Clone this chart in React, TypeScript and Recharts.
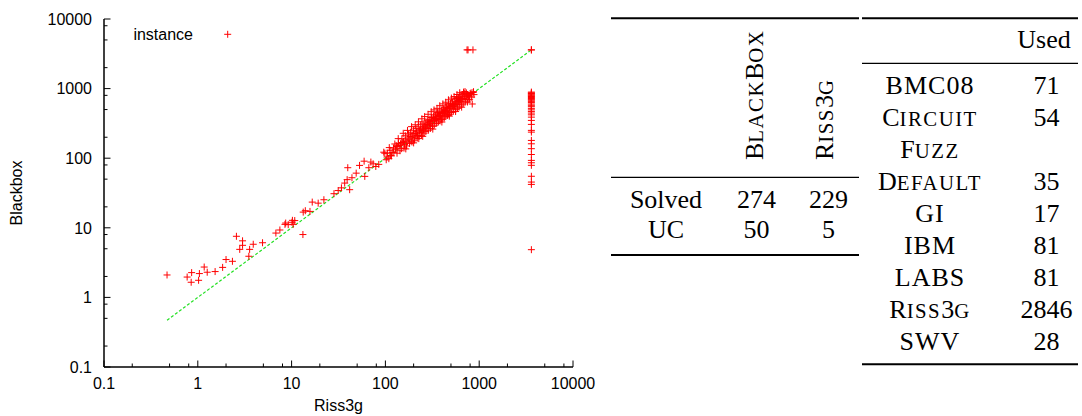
import React from 'react';
import { ScatterChart, Scatter, XAxis, YAxis, ReferenceLine, Legend } from 'recharts';

// ---------------- data ----------------
const TIMEOUT = 3600;

// [Riss3g time, Blackbox time] for instances solved by both solvers
const solvedByBoth: [number, number][] = [
  [0.47, 2.1], [0.77, 1.96], [0.86, 2.27], [0.85, 1.65], [1.04, 2.2], [1.02, 1.76],
  [1.17, 2.73], [1.26, 2.3], [1.53, 2.35], [1.84, 2.7], [2.0, 3.5], [2.34, 3.3],
  [2.58, 7.55], [3.0, 6.5], [3.0, 5.6], [2.8, 4.9], [3.57, 4.9], [3.5, 3.9],
  [3.9, 5.8], [4.9, 6.1], [6.8, 8.4], [7.5, 9.3], [8.5, 11.2], [8.65, 11.7],
  [9.2, 11.1], [10.2, 12.8], [10.4, 11.2], [10.8, 12.7], [10.1, 12.0], [13.2, 8.0],
  [13.3, 16.8], [14.0, 17.6], [15.7, 17.2], [16.6, 23.4], [19.2, 22.6], [22.1, 25.3],
  [28.3, 30.9], [31.4, 34.3], [34.0, 37.5], [36.8, 43.9], [39.1, 49.2], [41.6, 35.3],
  [39.7, 73], [44, 52.4], [48.8, 61], [53, 78.8], [59.3, 90.6], [60.3, 54.8],
  [66.6, 73], [70, 88], [74, 83], [79, 76], [85, 81.5], [96, 122],
  [98.6, 118], [104, 104], [108.8, 98.5], [113, 109], [123, 122], [134, 147],
  [105, 118], [112, 130], [118, 121], [122, 140], [128, 135], [131, 150],
  [137, 191], [140, 152], [145, 161], [148, 137], [151, 168], [156, 175],
  [160, 158], [165, 182], [170, 170], [174, 195], [178, 188], [183, 205],
  [188, 176], [193, 201], [197, 214], [202, 226], [206, 195], [210, 225],
  [215, 240], [220, 212], [227, 191], [231, 248], [236, 256], [240, 233],
  [246, 249], [250, 270], [255, 262], [260, 288], [267, 279], [272, 300],
  [278, 268], [283, 305], [290, 330], [296, 292], [300, 318], [305, 338],
  [314, 312], [320, 345], [328, 387], [334, 350], [340, 372], [348, 360],
  [356, 434], [362, 398], [370, 410], [378, 392], [386, 410], [392, 438],
  [398, 366], [405, 455], [412, 430], [420, 460], [428, 448], [436, 486],
  [445, 470], [455, 513], [463, 495], [475, 434], [482, 530], [490, 555],
  [500, 520], [515, 574], [525, 548], [535, 590], [545, 560], [557, 608],
  [568, 640], [580, 590], [592, 655], [604, 676], [615, 640], [628, 700],
  [640, 660], [654, 756], [668, 720], [681, 891], [695, 760], [706, 906],
  [720, 700], [735, 780], [750, 820], [771, 796], [785, 760], [800, 850],
  [820, 870], [843, 601], [860, 880], [880, 820],
  [102, 95], [110, 142], [116, 108], [126, 160], [133, 118], [138, 165],
  [143, 128], [150, 190], [158, 140], [163, 210], [168, 150], [176, 222],
  [181, 163], [186, 236], [192, 171], [199, 252], [204, 182], [212, 268],
  [218, 194], [224, 283], [229, 206], [238, 302], [243, 214], [252, 312],
  [258, 229], [265, 331], [270, 241], [280, 346], [287, 252], [293, 362],
  [302, 268], [310, 384], [318, 287], [325, 402], [332, 298], [343, 421],
  [352, 316], [360, 452], [367, 331], [375, 466], [383, 344], [395, 492],
  [402, 361], [415, 512], [424, 379], [432, 533], [441, 396], [450, 561],
  [460, 412], [470, 586], [478, 423], [495, 612], [505, 454], [520, 643],
  [530, 471], [550, 688], [562, 498], [575, 722], [588, 521], [600, 748],
  [612, 546], [625, 779], [645, 582], [660, 818], [675, 603], [690, 852],
  [710, 641], [730, 868], [760, 688], [790, 702], [830, 757], [870, 902],
  [155, 228], [172, 251], [190, 284], [208, 302], [225, 333], [245, 368],
  [262, 396], [285, 428], [308, 466], [330, 494], [355, 521], [380, 568],
  [410, 603], [440, 638], [470, 690], [505, 731], [540, 768], [580, 822],
  [620, 872], [165, 136], [200, 166], [250, 206], [320, 262], [400, 331],
  [480, 402], [560, 468], [650, 541], [750, 642],
];

// Blackbox times for instances where Riss3g hit the timeout
const riss3gTimeouts: number[] = [
  3600, 3600, 891, 870, 850, 830, 810, 790, 770, 745, 720, 700, 680, 655, 630, 600, 575,
  550, 520, 495, 470, 445, 420, 389, 349, 306, 251, 237, 180, 161, 137, 113, 93,
  86, 79, 55, 45.4, 42, 4.85,
];

// Riss3g times for instances where Blackbox hit the timeout
const blackboxTimeouts: number[] = [742, 760, 858];

const diagonal: [number, number] = [0.47, 3600];

const majorTicks = [0.1, 1, 10, 100, 1000, 10000];
const minorTicks = [0.2, 0.5, 0.8, 2, 5, 8, 20, 50, 80, 200, 500, 800, 2000, 5000, 8000];
const legendLabel = 'instance';
const xLabel = 'Riss3g';
const yLabel = 'Blackbox';

// tables
const t1Columns = ['BlackBox', 'Riss3g'];
const t1Rows = ['Solved', 'UC'];
const t1Values = [
  ['274', '229'],
  ['50', '5'],
];
const t2Header = 'Used';
const t2Names = ['BMC08', 'Circuit', 'Fuzz', 'Default', 'GI', 'IBM', 'LABS', 'Riss3g', 'SWV'];
const t2Used = ['71', '54', '', '35', '17', '81', '81', '2846', '28'];

// ---------------- styling ----------------
const SANS = '"Liberation Sans", Arial, Helvetica, sans-serif';
const SERIF = 'Liberation Serif';
const RED = '#ff0000';
const GREEN = '#22e022';
const TICK_FONT = 16;
const MAJOR_LEN = 6.5;
const MINOR_LEN = 3.5;

const allTicks = [...majorTicks, ...minorTicks].sort((a, b) => a - b);
const isMajor = (v: number) => majorTicks.indexOf(v) >= 0;
const fmt = (v: number) => (v < 1 ? String(v) : String(Math.round(v)));

const points = [
  ...solvedByBoth.map(([r, b]) => ({ r, b })),
  ...riss3gTimeouts.map((b) => ({ r: TIMEOUT, b })),
  ...blackboxTimeouts.map((r) => ({ r, b: TIMEOUT })),
];

function Plus(props: any) {
  const { cx, cy } = props;
  if (cx == null || cy == null) return null;
  return (
    <path
      d={`M${cx - 3.5},${cy}H${cx + 3.5}M${cx},${cy - 3.5}V${cy + 3.5}`}
      stroke={RED}
      strokeWidth={1}
      fill="none"
    />
  );
}

function BottomTick(props: any) {
  const { x, y, payload } = props;
  const v = payload.value;
  const major = isMajor(v);
  return (
    <g>
      <line x1={x} x2={x} y1={y} y2={y - (major ? MAJOR_LEN : MINOR_LEN)} stroke="#000" strokeWidth={1} />
      {major && (
        <text x={x} y={y + 22} textAnchor="middle" fontSize={TICK_FONT} fontFamily={SANS} fill="#000">
          {fmt(v)}
        </text>
      )}
    </g>
  );
}

function TopTick(props: any) {
  const { x, y, payload } = props;
  const major = isMajor(payload.value);
  return <line x1={x} x2={x} y1={y} y2={y + (major ? MAJOR_LEN : MINOR_LEN)} stroke="#000" strokeWidth={1} />;
}

function LeftTick(props: any) {
  const { x, y, payload } = props;
  const v = payload.value;
  const major = isMajor(v);
  return (
    <g>
      <line x1={x} x2={x + (major ? MAJOR_LEN : MINOR_LEN)} y1={y} y2={y} stroke="#000" strokeWidth={1} />
      {major && (
        <text x={x - 12} y={y + 5.7} textAnchor="end" fontSize={TICK_FONT} fontFamily={SANS} fill="#000">
          {fmt(v)}
        </text>
      )}
    </g>
  );
}

function RightTick(props: any) {
  const { x, y, payload } = props;
  const major = isMajor(payload.value);
  return <line x1={x} x2={x - (major ? MAJOR_LEN : MINOR_LEN)} y1={y} y2={y} stroke="#000" strokeWidth={1} />;
}

function LegendContent() {
  return (
    <svg width={260} height={50} style={{ display: 'block' }}>
      <text x={193} y={39.5} textAnchor="end" fontSize={TICK_FONT} fontFamily={SANS} fill="#000">
        {legendLabel}
      </text>
      <Plus cx={227.7} cy={34.3} />
    </svg>
  );
}

function SmallCaps({ text, size }: { text: string; size: number }) {
  const parts = text.match(/[a-z]+|[^a-z]+/g) || [];
  return (
    <>
      {parts.map((p, i) =>
        /[a-z]/.test(p) ? (
          <tspan key={i} fontSize={size * 0.8} letterSpacing={1.5}>
            {p.toUpperCase()}
          </tspan>
        ) : (
          <tspan key={i} fontSize={size} letterSpacing={p.length > 1 ? 1 : 0}>
            {p}
          </tspan>
        )
      )}
    </>
  );
}

function Tables() {
  const fs = 26;
  const t1 = { x1: 611, x2: 859, top: 18.3, mid: 177.3, bottom: 255 };
  const t1ColX = [756.5, 828.5];
  const t1HeaderBaseX = [763, 833];
  const t1RowY = [207.5, 237.5];
  const t1LabelX = 666;
  const t2 = { x1: 862, x2: 1078, top: 18.3, mid: 63.3, bottom: 364.3 };
  const t2NameX = 930;
  const t2ValX = 1046.5;
  const t2Row0 = 94.3;
  const t2Step = 31.95;
  return (
    <svg
      width={1082}
      height={416}
      fontFamily={SERIF}
      fontSize={fs}
      fill="#000"
      style={{ position: 'absolute', left: 0, top: 0, pointerEvents: 'none' }}
    >
      {/* table 1 */}
      <line x1={t1.x1} x2={t1.x2} y1={t1.top} y2={t1.top} stroke="#000" strokeWidth={2} />
      <line x1={t1.x1} x2={t1.x2} y1={t1.mid} y2={t1.mid} stroke="#000" strokeWidth={1.2} />
      <line x1={t1.x1} x2={t1.x2} y1={t1.bottom} y2={t1.bottom} stroke="#000" strokeWidth={2} />
      {t1Columns.map((c, i) => (
        <text
          key={c}
          fontFamily={SERIF}
          transform={`translate(${t1HeaderBaseX[i]},160) rotate(-90)`}
          x={0}
          y={0}
          textAnchor="start"
        >
          <SmallCaps text={c} size={fs} />
        </text>
      ))}
      {t1Rows.map((r, ri) => (
        <g key={r}>
          <text fontFamily={SERIF} x={t1LabelX} y={t1RowY[ri]} textAnchor="middle">
            {r}
          </text>
          {t1Values[ri].map((v, ci) => (
            <text key={ci} fontFamily={SERIF} x={t1ColX[ci]} y={t1RowY[ri]} textAnchor="middle">
              {v}
            </text>
          ))}
        </g>
      ))}
      {/* table 2 */}
      <line x1={t2.x1} x2={t2.x2} y1={t2.top} y2={t2.top} stroke="#000" strokeWidth={2} />
      <line x1={t2.x1} x2={t2.x2} y1={t2.mid} y2={t2.mid} stroke="#000" strokeWidth={1.2} />
      <line x1={t2.x1} x2={t2.x2} y1={t2.bottom} y2={t2.bottom} stroke="#000" strokeWidth={2} />
      <text fontFamily={SERIF} x={1044} y={48} textAnchor="middle">
        {t2Header}
      </text>
      {t2Names.map((n, i) => (
        <g key={n + i}>
          <text fontFamily={SERIF} x={t2NameX} y={t2Row0 + i * t2Step} textAnchor="middle">
            <SmallCaps text={n} size={fs} />
          </text>
          <text fontFamily={SERIF} x={t2ValX} y={t2Row0 + i * t2Step} textAnchor="middle">
            {t2Used[i]}
          </text>
        </g>
      ))}
    </svg>
  );
}

export default function App() {
  return (
    <div style={{ position: 'absolute', left: 0, top: 0, width: 1082, height: 416, background: '#fff' }}>
      <ScatterChart width={600} height={416} margin={{ top: 19, right: 27, bottom: 0, left: 0 }}>
        <XAxis
          xAxisId={0}
          dataKey="r"
          type="number"
          scale="log"
          domain={[0.1, 10000]}
          allowDataOverflow
          ticks={allTicks}
          interval={0}
          tickSize={0}
          tickMargin={0}
          height={49}
          axisLine={{ stroke: '#000', strokeWidth: 1.5 }}
          tickLine={false}
          tick={(p: any) => <BottomTick {...p} />}
          label={{
            content: (p: any) => {
              const vb = p.viewBox || {};
              return (
                <text x={vb.x + vb.width / 2} y={vb.y + 44} textAnchor="middle" fontSize={TICK_FONT} fontFamily={SANS} fill="#000">
                  {xLabel}
                </text>
              );
            },
          }}
        />
        <XAxis
          xAxisId="top"
          orientation="top"
          type="number"
          scale="log"
          domain={[0.1, 10000]}
          allowDataOverflow
          ticks={allTicks}
          interval={0}
          tickSize={0}
          tickMargin={0}
          height={0}
          axisLine={{ stroke: '#000', strokeWidth: 1.5 }}
          tickLine={false}
          tick={(p: any) => <TopTick {...p} />}
        />
        <YAxis
          yAxisId={0}
          dataKey="b"
          type="number"
          scale="log"
          domain={[0.1, 10000]}
          allowDataOverflow
          ticks={allTicks}
          interval={0}
          tickSize={0}
          tickMargin={0}
          width={104}
          axisLine={{ stroke: '#000', strokeWidth: 1.5 }}
          tickLine={false}
          tick={(p: any) => <LeftTick {...p} />}
          label={{
            content: (p: any) => {
              const vb = p.viewBox || {};
              const cx = vb.x + 21.7;
              const cy = vb.y + vb.height / 2;
              return (
                <text
                  x={cx}
                  y={cy}
                  transform={`rotate(-90 ${cx} ${cy})`}
                  textAnchor="middle"
                  fontSize={TICK_FONT}
                  fontFamily={SANS}
                  fill="#000"
                >
                  {yLabel}
                </text>
              );
            },
          }}
        />
        <YAxis
          yAxisId="right"
          orientation="right"
          type="number"
          scale="log"
          domain={[0.1, 10000]}
          allowDataOverflow
          ticks={allTicks}
          interval={0}
          tickSize={0}
          tickMargin={0}
          width={0}
          axisLine={{ stroke: '#000', strokeWidth: 1.5 }}
          tickLine={false}
          tick={(p: any) => <RightTick {...p} />}
        />
        <ReferenceLine
          xAxisId={0}
          yAxisId={0}
          segment={[
            { x: diagonal[0], y: diagonal[0] },
            { x: diagonal[1], y: diagonal[1] },
          ]}
          stroke={GREEN}
          strokeWidth={1.2}
          strokeDasharray="3 2"
          ifOverflow="visible"
        />
        <Scatter
          xAxisId={0}
          yAxisId={0}
          name={legendLabel}
          data={points}
          shape={(p: any) => <Plus {...p} />}
          isAnimationActive={false}
        />
        <Legend
          layout="vertical"
          align="center"
          verticalAlign="middle"
          wrapperStyle={{ position: 'absolute', left: 0, top: 0, width: 260, height: 50 }}
          content={() => <LegendContent />}
        />
      </ScatterChart>
      <Tables />
    </div>
  );
}
